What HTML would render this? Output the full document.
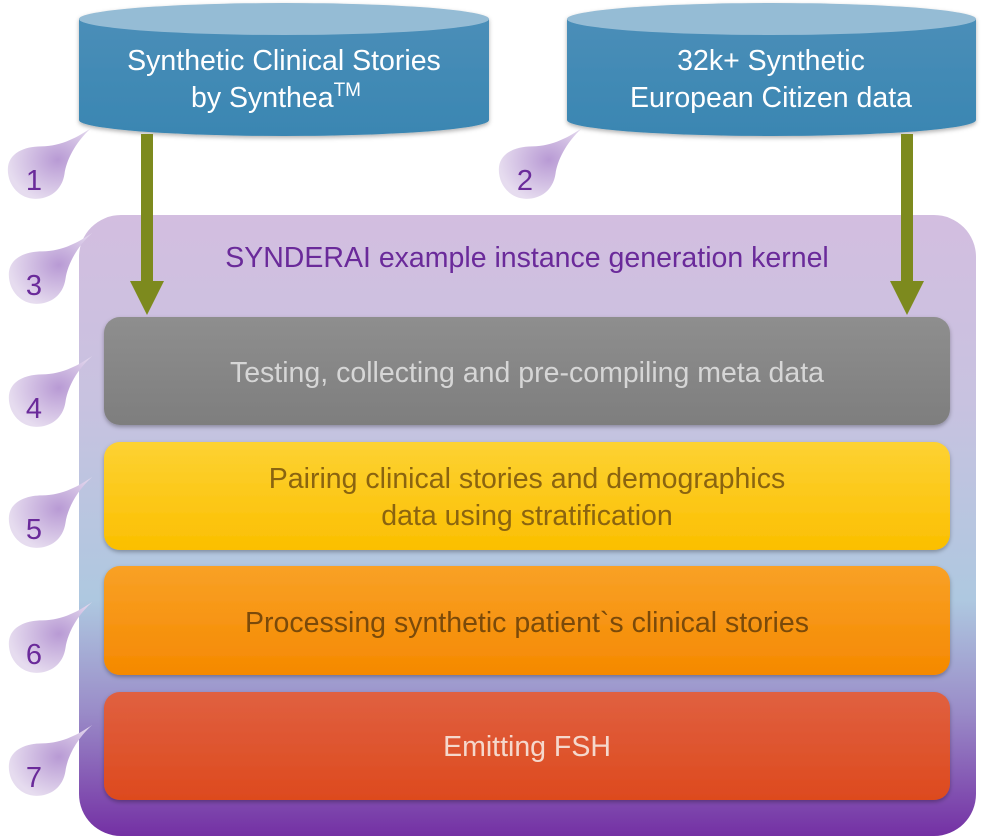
<!DOCTYPE html>
<html><head><meta charset="utf-8"><style>
html,body{margin:0;padding:0;background:#fff;}
svg{display:block;}
text{font-family:"Liberation Sans",sans-serif;}
</style></head><body>
<svg width="982" height="838" viewBox="0 0 982 838" xmlns="http://www.w3.org/2000/svg">
<defs>
<linearGradient id="cont" x1="0" y1="0" x2="0" y2="1">
<stop offset="0" stop-color="#d3bee0"/>
<stop offset="0.3" stop-color="#c8c2e0"/>
<stop offset="0.62" stop-color="#aec8e0"/>
<stop offset="0.8" stop-color="#9a8cc8"/>
<stop offset="1" stop-color="#7430a4"/>
</linearGradient>
<linearGradient id="cyl" x1="0" y1="0" x2="0" y2="1">
<stop offset="0" stop-color="#4a8eb8"/><stop offset="1" stop-color="#3a86b2"/>
</linearGradient>
<linearGradient id="gray" x1="0" y1="0" x2="0" y2="1"><stop offset="0" stop-color="#8e8e8e"/><stop offset="1" stop-color="#7e7e7e"/></linearGradient>
<linearGradient id="yel" x1="0" y1="0" x2="0" y2="1"><stop offset="0" stop-color="#fdd233"/><stop offset="1" stop-color="#fbbf00"/></linearGradient>
<linearGradient id="ora" x1="0" y1="0" x2="0" y2="1"><stop offset="0" stop-color="#f9a126"/><stop offset="1" stop-color="#f58900"/></linearGradient>
<linearGradient id="red" x1="0" y1="0" x2="0" y2="1"><stop offset="0" stop-color="#e06040"/><stop offset="1" stop-color="#dd4a1e"/></linearGradient>
<radialGradient id="bub" cx="0.6" cy="0.45" r="0.6"><stop offset="0" stop-color="#b89ad4"/><stop offset="1" stop-color="#e6dcef"/></radialGradient>
<filter id="sh" x="-5%" y="-10%" width="110%" height="130%"><feDropShadow dx="0" dy="2" stdDeviation="2" flood-color="#000" flood-opacity="0.3"/></filter>
<symbol id="b" viewBox="0 0 100 90" overflow="visible">
<path d="M0 50 C0 30 20 22 40 22 C65 22 85 10 100 0 C80 18 70 40 68 55 C65 75 50 85 33 85 C15 85 0 70 0 50 Z" fill="url(#bub)"/>
</symbol>
</defs>

<rect x="79" y="215" width="897" height="621" rx="42" fill="url(#cont)"/>
<text x="527" y="267" font-size="28.5" fill="#6a2a9a" text-anchor="middle">SYNDERAI example instance generation kernel</text>

<g filter="url(#sh)">
<path d="M79 19 L79 120 A205 16 0 0 0 489 120 L489 19 Z" fill="url(#cyl)"/>
<ellipse cx="284" cy="19" rx="205" ry="16" fill="#95bcd5"/>
<path d="M567 19 L567 120 A204.5 16 0 0 0 976 120 L976 19 Z" fill="url(#cyl)"/>
<ellipse cx="771.5" cy="19" rx="204.5" ry="16" fill="#95bcd5"/>
</g>
<text x="284" y="70" font-size="28.5" fill="#fff" text-anchor="middle">Synthetic Clinical Stories</text>
<text x="276" y="107" font-size="28.5" fill="#fff" text-anchor="middle">by Synthea<tspan font-size="19" dy="-11">TM</tspan></text>
<text x="771" y="70" font-size="28.5" fill="#fff" text-anchor="middle">32k+ Synthetic</text>
<text x="771" y="107" font-size="28.5" fill="#fff" text-anchor="middle">European Citizen data</text>

<g filter="url(#sh)">
<rect x="104" y="317" width="846" height="108" rx="16" fill="url(#gray)"/>
<rect x="104" y="442" width="846" height="108" rx="16" fill="url(#yel)"/>
<rect x="104" y="566" width="846" height="109" rx="16" fill="url(#ora)"/>
<rect x="104" y="692" width="846" height="108" rx="16" fill="url(#red)"/>
</g>
<text x="527" y="382" font-size="28.5" fill="#d6d6d6" text-anchor="middle">Testing, collecting and pre-compiling meta data</text>
<text x="527" y="488" font-size="28.5" fill="#8a6410" text-anchor="middle">Pairing clinical stories and demographics</text>
<text x="527" y="525" font-size="28.5" fill="#8a6410" text-anchor="middle">data using stratification</text>
<text x="527" y="632" font-size="28.5" fill="#7a4a0a" text-anchor="middle">Processing synthetic patient`s clinical stories</text>
<text x="527" y="756" font-size="28.5" fill="#f5d8cc" text-anchor="middle">Emitting FSH</text>

<g fill="#7d8a1e">
<rect x="141" y="134" width="12" height="150"/>
<polygon points="130,281 164,281 147,315"/>
<rect x="901" y="134" width="12" height="150"/>
<polygon points="890,281 924,281 907,315"/>
</g>

<g font-size="29" fill="#6a2a9a" text-anchor="middle">
<use href="#b" x="1" y="128" width="97" height="75"/>
<text x="34" y="190">1</text>
<use href="#b" x="492" y="128" width="97" height="75"/>
<text x="525" y="190">2</text>
<use href="#b" x="1" y="233" width="99" height="75"/>
<text x="34" y="295">3</text>
<use href="#b" x="1" y="356" width="99" height="75"/>
<text x="34" y="418">4</text>
<use href="#b" x="1" y="477" width="99" height="75"/>
<text x="34" y="539">5</text>
<use href="#b" x="1" y="602" width="99" height="75"/>
<text x="34" y="664">6</text>
<use href="#b" x="1" y="725" width="99" height="75"/>
<text x="34" y="787">7</text>
</g>
</svg>
</body></html>
